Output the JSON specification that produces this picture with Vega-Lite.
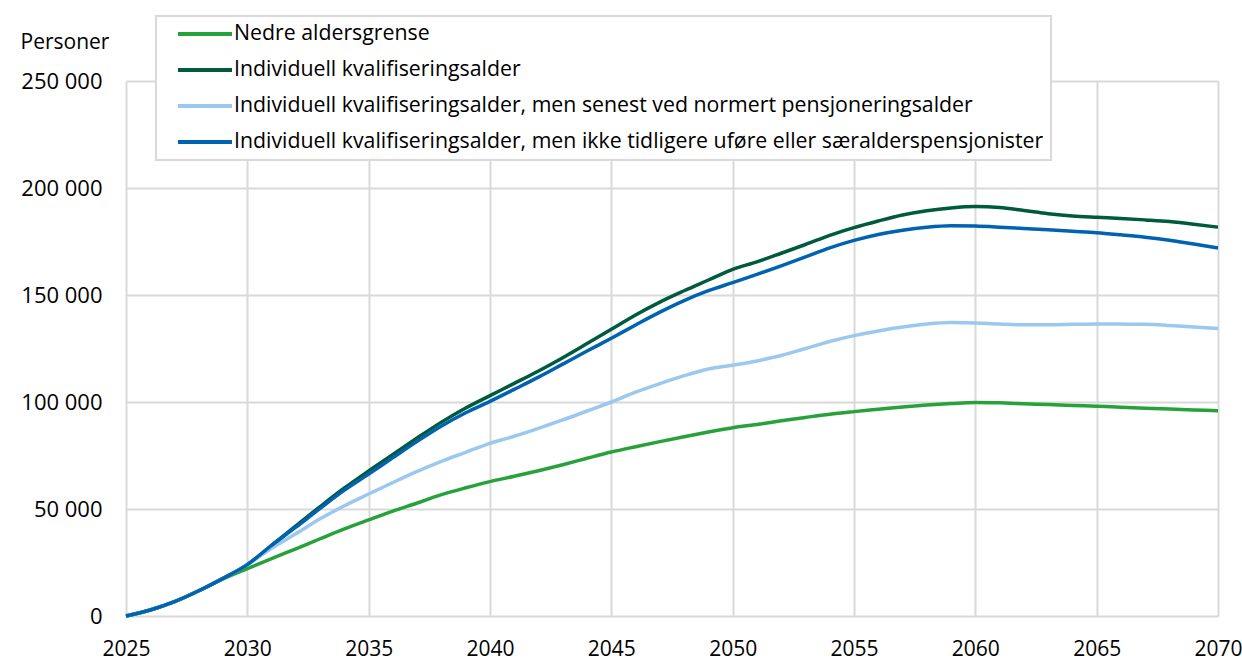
{
  "$schema": "https://vega.github.io/schema/vega-lite/v6.json",
  "width": 1092,
  "height": 535,
  "autosize": {"type": "none"},
  "padding": {"left": 126, "top": 81, "right": 24, "bottom": 45},
  "background": "white",
  "config": {
    "view": {"stroke": null},
    "font": "Open Sans",
    "legend": {"strokeWidth": 2}
  },
  "data": {
    "values": [
      {"year": 2025, "a": 0, "b": 0, "c": 0, "d": 0},
      {"year": 2026, "a": 2800, "b": 2800, "c": 2800, "d": 2800},
      {"year": 2027, "a": 6700, "b": 6700, "c": 6700, "d": 6700},
      {"year": 2028, "a": 11800, "b": 11800, "c": 11800, "d": 11800},
      {"year": 2029, "a": 17300, "b": 17600, "c": 17600, "d": 17600},
      {"year": 2030, "a": 22100, "b": 24000, "c": 24000, "d": 24000},
      {"year": 2031, "a": 26800, "b": 33000, "c": 31700, "d": 33000},
      {"year": 2032, "a": 31400, "b": 42100, "c": 38400, "d": 41500},
      {"year": 2033, "a": 36100, "b": 51100, "c": 45400, "d": 50300},
      {"year": 2034, "a": 40700, "b": 59800, "c": 51500, "d": 58800},
      {"year": 2035, "a": 44900, "b": 67800, "c": 57000, "d": 66300},
      {"year": 2036, "a": 49000, "b": 75500, "c": 62400, "d": 74000},
      {"year": 2037, "a": 52800, "b": 83200, "c": 67600, "d": 81600},
      {"year": 2038, "a": 56700, "b": 90600, "c": 72300, "d": 88800},
      {"year": 2039, "a": 59900, "b": 97200, "c": 76500, "d": 95000},
      {"year": 2040, "a": 62800, "b": 103000, "c": 80700, "d": 100300},
      {"year": 2041, "a": 65300, "b": 108700, "c": 84000, "d": 105900},
      {"year": 2042, "a": 67900, "b": 114500, "c": 87700, "d": 111600},
      {"year": 2043, "a": 70700, "b": 120700, "c": 91600, "d": 117700},
      {"year": 2044, "a": 73700, "b": 127300, "c": 95800, "d": 123800},
      {"year": 2045, "a": 76600, "b": 134000, "c": 100000, "d": 129800},
      {"year": 2046, "a": 79100, "b": 140700, "c": 104600, "d": 136000},
      {"year": 2047, "a": 81500, "b": 146700, "c": 108600, "d": 142000},
      {"year": 2048, "a": 83800, "b": 152000, "c": 112300, "d": 147400},
      {"year": 2049, "a": 86000, "b": 157000, "c": 115400, "d": 152000},
      {"year": 2050, "a": 88000, "b": 162000, "c": 117200, "d": 155800},
      {"year": 2051, "a": 89500, "b": 165500, "c": 119200, "d": 159600},
      {"year": 2052, "a": 91200, "b": 169500, "c": 121700, "d": 163600},
      {"year": 2053, "a": 92800, "b": 173600, "c": 125000, "d": 167800},
      {"year": 2054, "a": 94300, "b": 177900, "c": 128300, "d": 172000},
      {"year": 2055, "a": 95500, "b": 181500, "c": 131000, "d": 175500},
      {"year": 2056, "a": 96600, "b": 184600, "c": 133200, "d": 178300},
      {"year": 2057, "a": 97700, "b": 187400, "c": 135000, "d": 180300},
      {"year": 2058, "a": 98600, "b": 189400, "c": 136400, "d": 181700},
      {"year": 2059, "a": 99300, "b": 190700, "c": 137100, "d": 182400},
      {"year": 2060, "a": 99800, "b": 191300, "c": 136900, "d": 182200},
      {"year": 2061, "a": 99600, "b": 190900, "c": 136400, "d": 181700},
      {"year": 2062, "a": 99200, "b": 189500, "c": 136100, "d": 181100},
      {"year": 2063, "a": 98800, "b": 188000, "c": 136100, "d": 180500},
      {"year": 2064, "a": 98400, "b": 186900, "c": 136300, "d": 179800},
      {"year": 2065, "a": 98000, "b": 186300, "c": 136500, "d": 179100},
      {"year": 2066, "a": 97600, "b": 185800, "c": 136400, "d": 178100},
      {"year": 2067, "a": 97100, "b": 185100, "c": 136300, "d": 177000},
      {"year": 2068, "a": 96700, "b": 184300, "c": 135800, "d": 175600},
      {"year": 2069, "a": 96300, "b": 183100, "c": 135100, "d": 173800},
      {"year": 2070, "a": 95900, "b": 181700, "c": 134400, "d": 172000}
    ]
  },
  "transform": [
    {"fold": ["a", "b", "c", "d"], "as": ["key", "personer"]}
  ],
  "mark": {"type": "line", "strokeWidth": 3.5, "interpolate": "monotone"},
  "encoding": {
    "x": {
      "field": "year",
      "type": "quantitative",
      "scale": {"domain": [2025, 2070], "nice": false, "zero": false},
      "axis": {
        "values": [2025, 2030, 2035, 2040, 2045, 2050, 2055, 2060, 2065, 2070],
        "format": "d",
        "title": null,
        "grid": true,
        "gridColor": "#d9d9d9",
        "gridWidth": 2,
        "domain": false,
        "ticks": false,
        "tickSize": 0,
        "labelFontSize": 21,
        "labelColor": "#000000",
        "labelPadding": 22,
        "labelFlush": false,
        "labelOverlap": false
      }
    },
    "y": {
      "field": "personer",
      "type": "quantitative",
      "scale": {"domain": [0, 250000], "nice": false},
      "axis": {
        "values": [0, 50000, 100000, 150000, 200000, 250000],
        "labelExpr": "replace(format(datum.value, ','), ',', ' ')",
        "title": "Personer",
        "titleAngle": 0,
        "titleAlign": "left",
        "titleBaseline": "middle",
        "titleX": -106,
        "titleY": -39,
        "titleFontSize": 21,
        "titleFontWeight": "normal",
        "titleColor": "#000000",
        "grid": true,
        "gridColor": "#d9d9d9",
        "gridWidth": 2,
        "domain": false,
        "ticks": false,
        "tickSize": 0,
        "labelFontSize": 22,
        "labelColor": "#000000",
        "labelPadding": 24
      }
    },
    "color": {
      "field": "key",
      "type": "nominal",
      "sort": null,
      "scale": {
        "domain": ["a", "b", "c", "d"],
        "range": ["#27a23b", "#005a3e", "#9bc8ee", "#0063b1"]
      },
      "legend": {
        "orient": "none",
        "legendX": 30,
        "legendY": -65,
        "title": null,
        "labelExpr": "datum.value == 'a' ? 'Nedre aldersgrense' : datum.value == 'b' ? 'Individuell kvalifiseringsalder' : datum.value == 'c' ? 'Individuell kvalifiseringsalder, men senest ved normert pensjoneringsalder' : 'Individuell kvalifiseringsalder, men ikke tidligere uføre eller særalderspensjonister'",
        "symbolType": "M-3,0H3",
        "symbolSize": 324,
        "symbolStrokeWidth": 4,
        "symbolOffset": 31,
        "labelOffset": 18,
        "padding": 7,
        "rowPadding": 14,
        "labelFontSize": 21.3,
        "labelColor": "#000000",
        "labelLimit": 0,
        "strokeColor": "#d9d9d9",
        "fillColor": "white"
      }
    }
  }
}
